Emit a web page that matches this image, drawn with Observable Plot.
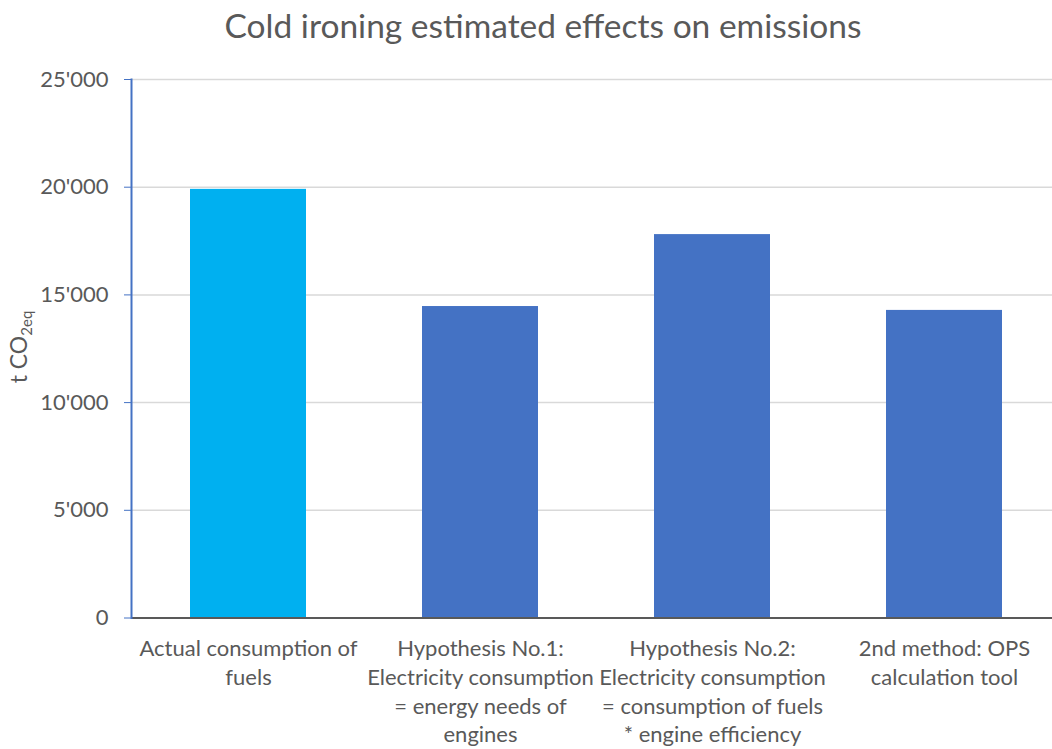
<!DOCTYPE html>
<html><head><meta charset="utf-8">
<script src="https://cdn.jsdelivr.net/npm/d3@7"></script>
<script src="https://cdn.jsdelivr.net/npm/@observablehq/plot@0.6"></script>
<style>
body{margin:0;background:#fff;font-family:Lato,sans-serif;}
#wrap{position:relative;width:1052px;height:749px;overflow:hidden;background:#fff}
#title{position:absolute;top:0;left:543px;transform:translateX(-50%);white-space:nowrap;font-size:33.5px;color:#595959;line-height:50px}
#chart{position:absolute;top:50px;left:0}
</style></head><body>
<div id="wrap"><div id="title">Cold ironing estimated effects on emissions</div><div id="chart"></div></div>
<script>
const categories = ["Actual consumption of fuels", "Hypothesis No.1", "Hypothesis No.2", "2nd method"];
const values = [19900, 14460, 17800, 14280];
const tickLabels = [
  "Actual consumption of\nfuels",
  "Hypothesis No.1:\nElectricity consumption\n= energy needs of\nengines",
  "Hypothesis No.2:\nElectricity consumption\n= consumption of fuels\n* engine efficiency",
  "2nd method: OPS\ncalculation tool"
];
const yTicks = [0, 5000, 10000, 15000, 20000, 25000];

const data = categories.map((c, i) => ({category: c, value: values[i]}));
const fmt = d3.formatLocale({decimal: ".", thousands: "'", grouping: [3], currency: ["", ""]}).format(",d");
const H = 699;
const plot = Plot.plot({
  width: 1052, height: H, marginTop: 29, marginBottom: 131.5, marginLeft: 131, marginRight: 0,
  style: {fontFamily: "Lato, sans-serif", background: "#fff", color: "#595959", overflow: "visible"},
  x: {domain: categories, range: [131, 1061], paddingInner: 0.5, paddingOuter: 0.25, align: 0.5},
  y: {domain: [0, 25000]},
  color: {domain: categories, range: ["#00B0F0", "#4472C4", "#4472C4", "#4472C4"]},
  marks: [
    Plot.gridY(yTicks, {stroke: "#D9D9D9", strokeWidth: 1.5, strokeOpacity: 1}),
    Plot.barY(data, {x: "category", y: "value", fill: "category"}),
    Plot.ruleY([0], {stroke: "#595959", strokeWidth: 2}),
    Plot.frame({anchor: "left", stroke: "#4472C4", strokeWidth: 2}),
    Plot.axisY(yTicks, {tickSize: 7, stroke: "#4472C4", tickFormat: fmt, fontSize: 22, tickPadding: 16, fill: "#595959", label: null}),
    Plot.axisX({tickSize: 0, tickFormat: (d) => tickLabels[categories.indexOf(d)], fontSize: 22, lineHeight: 1.3, tickPadding: 18, label: null, fill: "#595959"})
  ]
});
document.getElementById("chart").appendChild(plot);
const lab = d3.select(plot).append("text")
  .attr("transform", "translate(27,297) rotate(-90)")
  .attr("text-anchor", "middle")
  .attr("font-size", 23)
  .attr("fill", "#595959")
  .attr("font-family", "Lato, sans-serif");
lab.append("tspan").text("t CO");
lab.append("tspan").attr("font-size", 15).attr("dy", 5).text("2eq");
</script>
</body></html>
